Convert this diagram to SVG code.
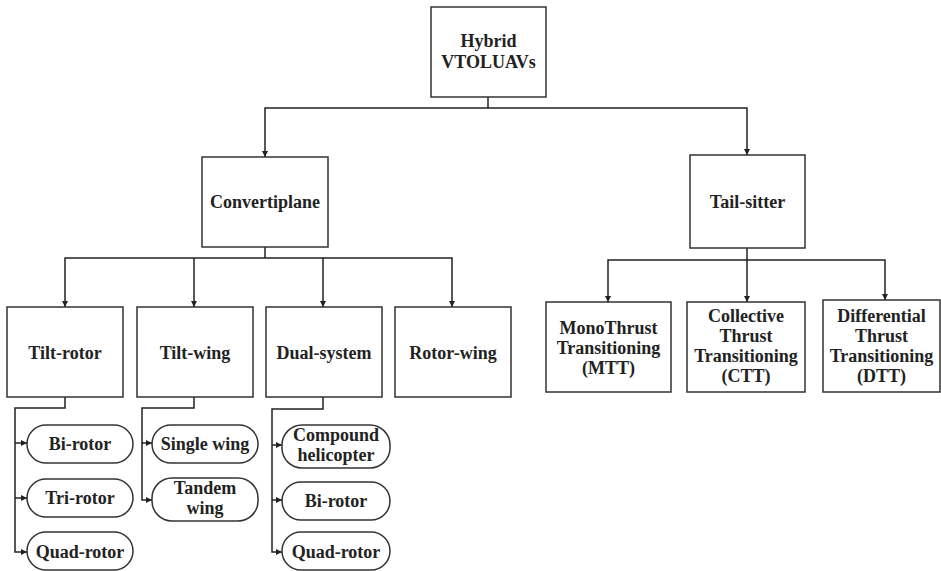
<svg xmlns="http://www.w3.org/2000/svg" width="941" height="571" viewBox="0 0 941 571">
<style>
.box{fill:#fff;stroke:#333;stroke-width:1.5}
.ln{fill:none;stroke:#222;stroke-width:1.5}
.t{font-family:"Liberation Serif","Times New Roman",serif;font-weight:bold;font-size:18px;fill:#222;text-anchor:middle}
</style>
<defs>
<marker id="a" markerUnits="userSpaceOnUse" markerWidth="7" markerHeight="6" refX="6" refY="3" orient="auto">
<path d="M0,0 L6,3 L0,6 Z" fill="#222"/>
</marker>
</defs>
<g id="connectors">
<path class="ln" d="M488,97 V108"/>
<path class="ln" d="M488,108 H265 V157" marker-end="url(#a)"/>
<path class="ln" d="M488,108 H747 V155" marker-end="url(#a)"/>
<path class="ln" d="M265,247 V258"/>
<path class="ln" d="M265,258 H65 V307" marker-end="url(#a)"/>
<path class="ln" d="M194,258 V307" marker-end="url(#a)"/>
<path class="ln" d="M265,258 H323 V307" marker-end="url(#a)"/>
<path class="ln" d="M323,258 H452 V307" marker-end="url(#a)"/>
<path class="ln" d="M747,248 V260"/>
<path class="ln" d="M747,260 H608 V302" marker-end="url(#a)"/>
<path class="ln" d="M747,260 V302" marker-end="url(#a)"/>
<path class="ln" d="M747,260 H885 V300" marker-end="url(#a)"/>
<path class="ln" d="M65,397 V408 H15 V552 H27" marker-end="url(#a)"/>
<path class="ln" d="M15,443 H27" marker-end="url(#a)"/>
<path class="ln" d="M15,498 H27" marker-end="url(#a)"/>
<path class="ln" d="M194,397 V408 H142 V500 H152" marker-end="url(#a)"/>
<path class="ln" d="M142,443 H152" marker-end="url(#a)"/>
<path class="ln" d="M323,397 V409 H272 V552 H282" marker-end="url(#a)"/>
<path class="ln" d="M272,445 H282" marker-end="url(#a)"/>
<path class="ln" d="M272,500 H282" marker-end="url(#a)"/>
</g>
<g id="hybrid"><rect class="box" x="431" y="7" width="115" height="90"/><text class="t" x="488.5" y="47">Hybrid</text><text class="t" x="488.5" y="68">VTOLUAVs</text></g>
<g id="convertiplane"><rect class="box" x="202" y="157" width="126" height="90"/><text class="t" x="265" y="208">Convertiplane</text></g>
<g id="tailsitter"><rect class="box" x="690" y="155" width="115" height="93"/><text class="t" x="747.5" y="208">Tail-sitter</text></g>
<g id="tiltrotor"><rect class="box" x="7" y="307" width="116" height="90"/><text class="t" x="65" y="359">Tilt-rotor</text></g>
<g id="tiltwing"><rect class="box" x="137" y="307" width="116" height="90"/><text class="t" x="195" y="359">Tilt-wing</text></g>
<g id="dualsystem"><rect class="box" x="266" y="307" width="116" height="90"/><text class="t" x="324" y="359">Dual-system</text></g>
<g id="rotorwing"><rect class="box" x="395" y="307" width="116" height="90"/><text class="t" x="453" y="359">Rotor-wing</text></g>
<g id="mtt"><rect class="box" x="546" y="302" width="125" height="90"/><text class="t" x="608.5" y="334">MonoThrust</text><text class="t" x="608.5" y="354">Transitioning</text><text class="t" x="608.5" y="374">(MTT)</text></g>
<g id="ctt"><rect class="box" x="687" y="302" width="118" height="90"/><text class="t" x="746" y="322">Collective</text><text class="t" x="746" y="342">Thrust</text><text class="t" x="746" y="362">Transitioning</text><text class="t" x="746" y="382">(CTT)</text></g>
<g id="dtt"><rect class="box" x="823" y="300" width="117" height="92"/><text class="t" x="881.5" y="322">Differential</text><text class="t" x="881.5" y="342">Thrust</text><text class="t" x="881.5" y="362">Transitioning</text><text class="t" x="881.5" y="382">(DTT)</text></g>
<g id="tr-birotor"><rect class="box" x="27" y="425" width="106" height="38" rx="19"/><text class="t" x="80" y="450">Bi-rotor</text></g>
<g id="tr-trirotor"><rect class="box" x="27" y="479" width="106" height="38" rx="19"/><text class="t" x="80" y="504">Tri-rotor</text></g>
<g id="tr-quadrotor"><rect class="box" x="27" y="532" width="106" height="38" rx="19"/><text class="t" x="80" y="558">Quad-rotor</text></g>
<g id="tw-single"><rect class="box" x="152" y="425" width="106" height="38" rx="19"/><text class="t" x="205" y="450">Single wing</text></g>
<g id="tw-tandem"><rect class="box" x="152" y="478" width="106" height="43" rx="20"/><text class="t" x="205" y="494">Tandem</text><text class="t" x="205" y="514">wing</text></g>
<g id="ds-compound"><rect class="box" x="282" y="425" width="108" height="43" rx="20"/><text class="t" x="336" y="441">Compound</text><text class="t" x="336" y="461">helicopter</text></g>
<g id="ds-birotor"><rect class="box" x="282" y="482" width="108" height="38" rx="19"/><text class="t" x="336" y="507">Bi-rotor</text></g>
<g id="ds-quadrotor"><rect class="box" x="282" y="532" width="108" height="38" rx="19"/><text class="t" x="336" y="558">Quad-rotor</text></g>
</svg>
